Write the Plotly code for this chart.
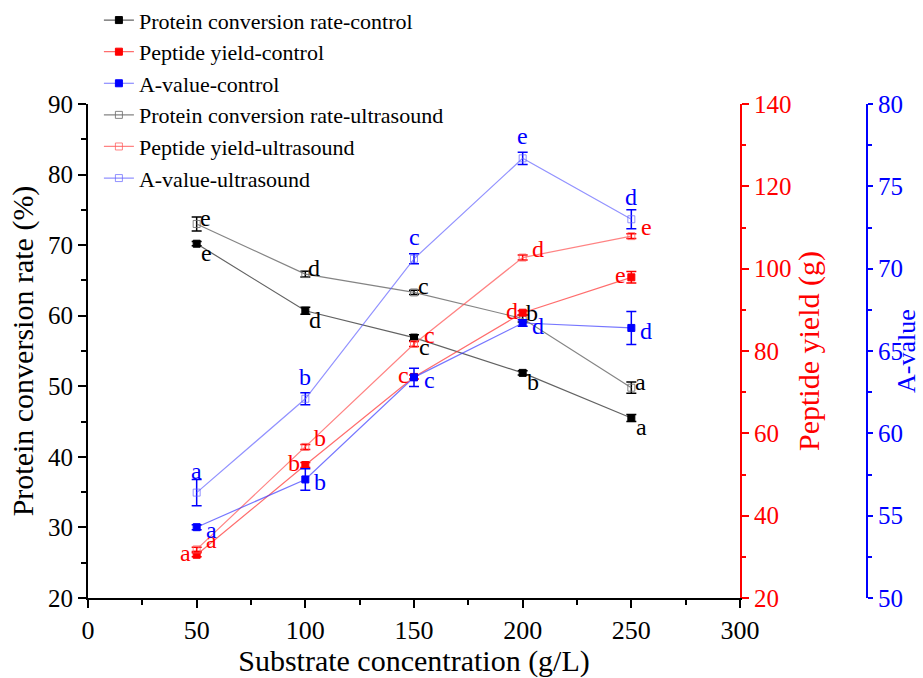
import plotly.graph_objects as go

# ---------------- data ----------------
x_conc = [50, 100, 150, 200, 250]

protein_ctrl = [70.2, 60.7, 56.9, 51.9, 45.5]
protein_ctrl_err = [0.3, 0.5, 0.4, 0.3, 0.5]
protein_us = [73.0, 65.9, 63.3, 59.6, 49.8]
protein_us_err = [1.0, 0.4, 0.3, 0.5, 0.8]

peptide_ctrl = [30.5, 52.3, 73.7, 89.3, 97.9]
peptide_ctrl_err = [0.5, 0.6, 0.5, 0.5, 1.4]
peptide_us = [31.8, 56.7, 81.7, 102.7, 107.9]
peptide_us_err = [0.5, 0.6, 0.6, 0.6, 0.6]

aval_ctrl = [54.3, 57.2, 63.4, 66.7, 66.4]
aval_ctrl_err = [0.15, 0.65, 0.55, 0.2, 1.0]
aval_us = [56.4, 62.1, 70.6, 76.7, 73.0]
aval_us_err = [0.8, 0.37, 0.3, 0.37, 0.58]

protein_ctrl_letters = ["e", "d", "c", "b", "a"]
protein_us_letters = ["e", "d", "c", "b", "a"]
peptide_ctrl_letters = ["a", "b", "c", "d", "e"]
peptide_us_letters = ["a", "b", "c", "d", "e"]
aval_ctrl_letters = ["a", "b", "c", "d", "d"]
aval_us_letters = ["a", "b", "c", "e", "d"]

x_ticks = [0, 50, 100, 150, 200, 250, 300]

FONT = "Liberation Serif, Times New Roman, serif"
BLACK, RED, BLUE = "#000000", "#ff0000", "#0000ff"

fig = go.Figure()


def add_series(name, y, err, color, line_rgba, filled, yaxis):
    marker = dict(symbol="square" if filled else "square-open", size=7,
                  color=color if filled else line_rgba,
                  line=dict(width=1, color=color if filled else line_rgba))
    fig.add_trace(go.Scatter(
        x=x_conc, y=y, name=name, mode="lines+markers", yaxis=yaxis,
        line=dict(color=line_rgba, width=1.2),
        marker=marker,
        error_y=dict(type="data", array=err, visible=True, color=color,
                     thickness=1.5, width=5),
    ))


add_series("Protein conversion rate-control", protein_ctrl, protein_ctrl_err,
           BLACK, "rgba(70,70,70,0.85)", True, "y")
add_series("Peptide yield-control", peptide_ctrl, peptide_ctrl_err,
           RED, "rgba(255,60,60,0.75)", True, "y2")
add_series("A-value-control", aval_ctrl, aval_ctrl_err,
           BLUE, "rgba(60,60,255,0.7)", True, "y3")
add_series("Protein conversion rate-ultrasound", protein_us, protein_us_err,
           BLACK, "rgba(110,110,110,0.85)", False, "y")
add_series("Peptide yield-ultrasound", peptide_us, peptide_us_err,
           RED, "rgba(255,90,90,0.75)", False, "y2")
add_series("A-value-ultrasound", aval_us, aval_us_err,
           BLUE, "rgba(100,100,255,0.7)", False, "y3")

# significance letters
annots = []


def add_letters(ys, letters, color, yref, dx, dy):
    for xv, yv, t in zip(x_conc, ys, letters):
        annots.append(dict(x=xv, y=yv, xref="x", yref=yref, text=t,
                           showarrow=False, xshift=dx, yshift=dy,
                           font=dict(family=FONT, size=24, color=color)))


add_letters(protein_ctrl, protein_ctrl_letters, BLACK, "y", 10, -9)
add_letters(protein_us, protein_us_letters, BLACK, "y", 9, 6)
add_letters(peptide_ctrl, peptide_ctrl_letters, RED, "y2", -11, 2)
add_letters(peptide_us, peptide_us_letters, RED, "y2", 15, 9)
add_letters(aval_ctrl, aval_ctrl_letters, BLUE, "y3", 15, -3)
add_letters(aval_us, aval_us_letters, BLUE, "y3", 0, 22)

# A-value axis title (placed as rotated text beside the third axis)
annots.append(dict(x=1.0, y=0.5, xref="paper", yref="paper", text="A-value",
                   textangle=-90, showarrow=False, xanchor="center",
                   yanchor="middle", xshift=39,
                   font=dict(family=FONT, size=26, color=BLUE)))

axis_common = dict(ticks="outside", tickwidth=1.5, showline=True,
                   linewidth=2, showgrid=False, zeroline=False,
                   automargin=False)

fig.update_layout(
    width=923, height=678,
    margin=dict(l=88, r=56, t=104, b=80, autoexpand=False),
    paper_bgcolor="white", plot_bgcolor="white",
    font=dict(family=FONT, size=24, color=BLACK),
    showlegend=True,
    legend=dict(x=0.014, y=1.212, xanchor="left", yanchor="top",
                bgcolor="rgba(0,0,0,0)", font=dict(family=FONT, size=22),
                tracegroupgap=0, itemwidth=30),
    xaxis=dict(domain=[0, 652 / 779], range=[0, 300], tickvals=x_ticks,
               linecolor=BLACK, tickcolor=BLACK, ticklen=8,
               minor=dict(ticks="outside", ticklen=5, dtick=25, tickcolor=BLACK),
               tickfont=dict(size=26, color=BLACK),
               title=dict(text="Substrate concentration (g/L)",
                          font=dict(size=30, color=BLACK), standoff=8),
               **axis_common),
    yaxis=dict(range=[20, 90], dtick=10, linecolor=BLACK, tickcolor=BLACK,
               ticklen=8,
               minor=dict(ticks="outside", ticklen=5, dtick=5, tickcolor=BLACK),
               tickfont=dict(size=25, color=BLACK),
               title=dict(text="Protein conversion rate (%)",
                          font=dict(size=30, color=BLACK), standoff=6),
               **axis_common),
    yaxis2=dict(range=[20, 140], dtick=20, overlaying="y", side="right",
                anchor="x", linecolor=RED, tickcolor=RED, ticklen=7,
                minor=dict(ticks="outside", ticklen=4, dtick=10, tickcolor=RED),
                tickfont=dict(size=25, color=RED),
                title=dict(text="Peptide yield (g)",
                           font=dict(size=30, color=RED), standoff=4),
                **axis_common),
    yaxis3=dict(range=[50, 80], dtick=5, overlaying="y", side="right",
                anchor="free", position=1.0, linecolor=BLUE, tickcolor=BLUE,
                ticklen=5,
                minor=dict(ticks="outside", ticklen=4, dtick=2.5, tickcolor=BLUE),
                tickfont=dict(size=25, color=BLUE),
                **axis_common),
    annotations=annots,
)

fig.write_html("out.html")
